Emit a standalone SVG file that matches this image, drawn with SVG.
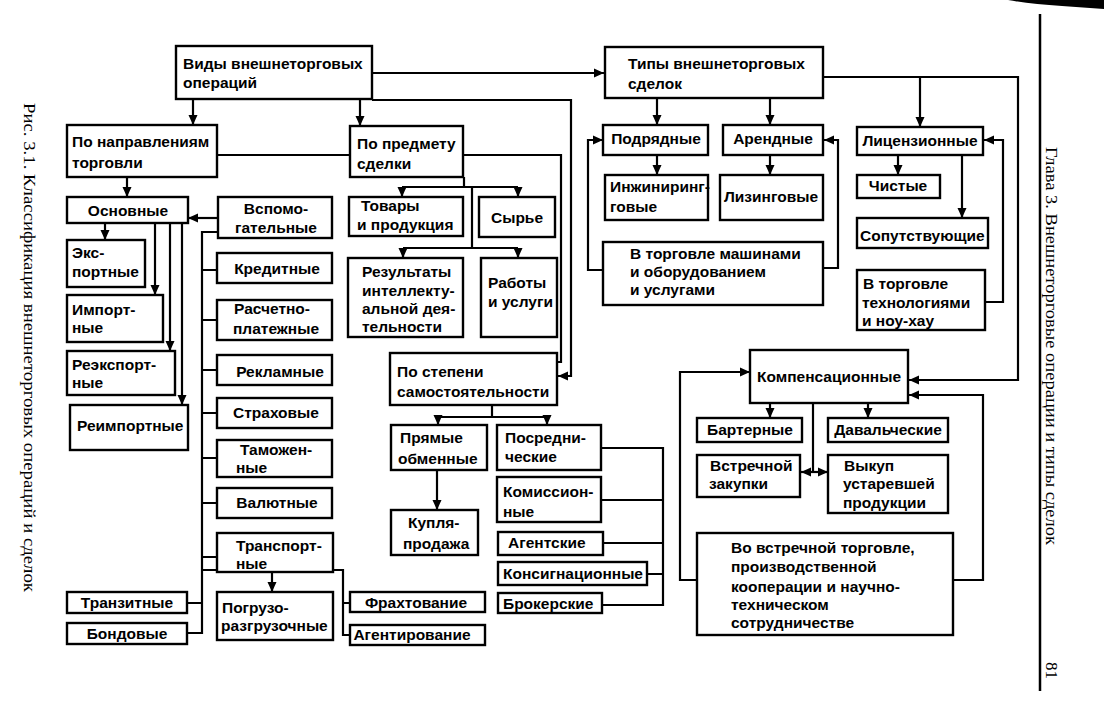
<svg xmlns="http://www.w3.org/2000/svg" width="1104" height="721" viewBox="0 0 1104 721">
<style>
.box{fill:#fff;stroke:#000;stroke-width:2.4}
.t{font-family:"Liberation Sans",Arial,sans-serif;font-size:15.5px;font-weight:bold;fill:#000}
.c{text-anchor:middle}
.ln{fill:none;stroke:#000;stroke-width:2.2}
.ar{marker-end:url(#ah)}
.cap{font-family:"Liberation Serif","Times New Roman",serif;font-size:17px;fill:#000}
</style>
<defs>
<marker id="ah" viewBox="0 0 10 10" refX="10" refY="5" markerWidth="10" markerHeight="10" markerUnits="userSpaceOnUse" orient="auto"><path d="M0,0.5 L10,5 L0,9.5 z" fill="#000"/></marker>
</defs>
<rect width="1104" height="721" fill="#fff"/>
<g id="scan-edge"><path d="M1008,0 L1104,0 L1104,9 L1062,6 Q1030,4 1008,0 Z" fill="#000"/></g>
<g id="page-rule"><line x1="1040" y1="14" x2="1040" y2="691" stroke="#000" stroke-width="2.5"/></g>
<g id="captions">
<text class="cap" transform="translate(24,103) rotate(90)" textLength="489" lengthAdjust="spacingAndGlyphs">Рис. 3.1. Классификация внешнеторговых операций и сделок</text>
<text class="cap" transform="translate(1046,147) rotate(90)" textLength="398" lengthAdjust="spacingAndGlyphs">Глава 3. Внешнеторговые операции и типы сделок</text>
<text class="cap" transform="translate(1046,662) rotate(90)">81</text>
</g>
<g id="connectors">
<path class="ln ar" d="M193,99 V125"/>
<path class="ln ar" d="M360,99 V126"/>
<path class="ln ar" d="M372,73 H604"/>
<path class="ln ar" d="M372,100 H571 V376 H558"/>
<path class="ln" d="M217,155 H350"/>
<path class="ln" d="M463,155 H561 V362 H557"/>
<path class="ln" d="M464,177 V187 M402,187 H518 M472,187 V248 M403,248 H518"/>
<path class="ln ar" d="M402,187 V197"/>
<path class="ln ar" d="M518,187 V197"/>
<path class="ln ar" d="M403,248 V258"/>
<path class="ln ar" d="M518,248 V258"/>
<path class="ln" d="M492,405 V417 M438,417 H547"/>
<path class="ln ar" d="M438,417 V425"/>
<path class="ln ar" d="M547,417 V425"/>
<path class="ln ar" d="M437,470 V510"/>
<path class="ln" d="M601,448 H663 V605 H602 M601,500 H663 M603,543 H663 M647,574 H663"/>
<path class="ln ar" d="M127,177 V197"/>
<path class="ln ar" d="M218,218 H188"/>
<path class="ln ar" d="M105,223 V240"/>
<path class="ln ar" d="M155,223 V295"/>
<path class="ln ar" d="M170,223 V351"/>
<path class="ln ar" d="M182,223 V405"/>
<path class="ln" d="M218,232 H202 V634 M202,557 H217 M202,270 H217 M202,320 H217 M202,370 H217 M202,413 H217 M202,458 H217 M202,503 H217 M217,570 H202 M187,603 H202 M187,633 H202"/>
<path class="ln ar" d="M272,572 V592"/>
<path class="ln" d="M333,570 H343 V635 H350 M343,603 H350"/>
<path class="ln ar" d="M657,98 V125"/>
<path class="ln ar" d="M770,98 V125"/>
<path class="ln ar" d="M823,77 H1018 V380 H909"/>
<path class="ln ar" d="M920,77 V127"/>
<path class="ln ar" d="M657,155 V175"/>
<path class="ln ar" d="M770,155 V175"/>
<path class="ln ar" d="M898,155 V175"/>
<path class="ln ar" d="M962,155 V218"/>
<path class="ln ar" d="M603,270 H588 V140 H603"/>
<path class="ln ar" d="M823,268 H838 V140 H824"/>
<path class="ln ar" d="M985,302 H1003 V140 H984"/>
<path class="ln ar" d="M770,403 V418"/>
<path class="ln ar" d="M868,403 V418"/>
<path class="ln" d="M813,403 V472"/>
<path class="ln ar" d="M813,472 H801"/>
<path class="ln ar" d="M813,472 H828"/>
<path class="ln ar" d="M697,580 H680 V372 H750"/>
<path class="ln ar" d="M953,580 H983 V395 H909"/>
</g>
<g id="n-vidy"><rect class="box" x="176" y="46" width="196" height="53"/><text class="t" x="183" y="69">Виды внешнеторговых</text><text class="t" x="183" y="88">операций</text></g>
<g id="n-tipy"><rect class="box" x="605" y="47" width="218" height="51"/><text class="t" x="628" y="69">Типы внешнеторговых</text><text class="t" x="628" y="89">сделок</text></g>
<g id="n-napr"><rect class="box" x="67" y="125" width="150" height="52"/><text class="t" x="72" y="147">По направлениям</text><text class="t" x="72" y="168">торговли</text></g>
<g id="n-predm"><rect class="box" x="350" y="126" width="113" height="51"/><text class="t" x="357" y="149">По предмету</text><text class="t" x="357" y="169">сделки</text></g>
<g id="n-osn"><rect class="box" x="67" y="197" width="121" height="26"/><text class="t c" x="128" y="216">Основные</text></g>
<g id="n-vspom"><rect class="box" x="218" y="197" width="114" height="41"/><text class="t c" x="276" y="214">Вспомо-</text><text class="t c" x="276" y="233">гательные</text></g>
<g id="n-tovary"><rect class="box" x="349" y="197" width="114" height="39"/><text class="t" x="361" y="211">Товары</text><text class="t" x="357" y="230">и продукция</text></g>
<g id="n-syrie"><rect class="box" x="479" y="197" width="76" height="40"/><text class="t c" x="517" y="223">Сырье</text></g>
<g id="n-export"><rect class="box" x="67" y="240" width="78" height="47"/><text class="t" x="72" y="258">Экс-</text><text class="t" x="72" y="277">портные</text></g>
<g id="n-import"><rect class="box" x="67" y="295" width="96" height="47"/><text class="t" x="72" y="315">Импорт-</text><text class="t" x="72" y="333">ные</text></g>
<g id="n-reexport"><rect class="box" x="67" y="351" width="108" height="44"/><text class="t" x="72" y="370">Реэкспорт-</text><text class="t" x="72" y="388">ные</text></g>
<g id="n-reimport"><rect class="box" x="70" y="405" width="118" height="45"/><text class="t" x="77" y="431">Реимпортные</text></g>
<g id="n-kredit"><rect class="box" x="217" y="253" width="115" height="30"/><text class="t c" x="277" y="274">Кредитные</text></g>
<g id="n-raschet"><rect class="box" x="217" y="300" width="115" height="40"/><text class="t" x="234" y="314">Расчетно-</text><text class="t" x="233" y="334">платежные</text></g>
<g id="n-reklam"><rect class="box" x="217" y="355" width="115" height="30"/><text class="t c" x="280" y="377">Рекламные</text></g>
<g id="n-strakh"><rect class="box" x="217" y="398" width="115" height="30"/><text class="t c" x="276" y="418">Страховые</text></g>
<g id="n-tamozh"><rect class="box" x="217" y="440" width="115" height="37"/><text class="t" x="240" y="455">Таможен-</text><text class="t" x="236" y="473">ные</text></g>
<g id="n-valyut"><rect class="box" x="217" y="488" width="115" height="30"/><text class="t c" x="277" y="508">Валютные</text></g>
<g id="n-transp"><rect class="box" x="217" y="533" width="116" height="39"/><text class="t" x="236" y="551">Транспорт-</text><text class="t" x="236" y="569">ные</text></g>
<g id="n-tranzit"><rect class="box" x="67" y="592" width="120" height="21"/><text class="t c" x="127" y="608">Транзитные</text></g>
<g id="n-bond"><rect class="box" x="67" y="623" width="120" height="21"/><text class="t c" x="127" y="639">Бондовые</text></g>
<g id="n-pogruz"><rect class="box" x="217" y="592" width="116" height="48"/><text class="t" x="222" y="613">Погрузо-</text><text class="t" x="221" y="631">разгрузочные</text></g>
<g id="n-frakht"><rect class="box" x="350" y="592" width="135" height="20"/><text class="t c" x="416" y="608">Фрахтование</text></g>
<g id="n-agentir"><rect class="box" x="350" y="625" width="135" height="20"/><text class="t c" x="412" y="640">Агентирование</text></g>
<g id="n-rezult"><rect class="box" x="348" y="258" width="115" height="79"/><text class="t" x="362" y="277">Результаты</text><text class="t" x="362" y="296">интеллекту-</text><text class="t" x="362" y="314">альной дея-</text><text class="t" x="362" y="332">тельности</text></g>
<g id="n-raboty"><rect class="box" x="481" y="258" width="76" height="79"/><text class="t" x="488" y="288">Работы</text><text class="t" x="488" y="307">и услуги</text></g>
<g id="n-stepen"><rect class="box" x="390" y="353" width="167" height="52"/><text class="t" x="397" y="377">По степени</text><text class="t" x="397" y="397">самостоятельности</text></g>
<g id="n-pryamye"><rect class="box" x="391" y="425" width="96" height="45"/><text class="t" x="400" y="443">Прямые</text><text class="t" x="398" y="464">обменные</text></g>
<g id="n-kuplya"><rect class="box" x="391" y="510" width="87" height="45"/><text class="t" x="408" y="528">Купля-</text><text class="t" x="403" y="549">продажа</text></g>
<g id="n-posred"><rect class="box" x="497" y="425" width="104" height="45"/><text class="t" x="505" y="443">Посредни-</text><text class="t" x="505" y="462">ческие</text></g>
<g id="n-komis"><rect class="box" x="497" y="477" width="104" height="45"/><text class="t" x="503" y="497">Комиссион-</text><text class="t" x="503" y="517">ные</text></g>
<g id="n-agent"><rect class="box" x="498" y="532" width="105" height="23"/><text class="t" x="508" y="548">Агентские</text></g>
<g id="n-konsig"><rect class="box" x="498" y="562" width="149" height="23"/><text class="t" x="503" y="579">Консигнационные</text></g>
<g id="n-broker"><rect class="box" x="498" y="593" width="104" height="20"/><text class="t" x="503" y="609">Брокерские</text></g>
<g id="n-podr"><rect class="box" x="603" y="125" width="105" height="30"/><text class="t c" x="656" y="144">Подрядные</text></g>
<g id="n-arend"><rect class="box" x="723" y="125" width="100" height="30"/><text class="t c" x="773" y="144">Арендные</text></g>
<g id="n-licen"><rect class="box" x="857" y="127" width="126" height="28"/><text class="t c" x="920" y="146">Лицензионные</text></g>
<g id="n-inzh"><rect class="box" x="605" y="175" width="103" height="45"/><text class="t" x="610" y="192">Инжиниринг-</text><text class="t" x="610" y="212">говые</text></g>
<g id="n-liz"><rect class="box" x="720" y="175" width="103" height="45"/><text class="t c" x="771" y="202">Лизинговые</text></g>
<g id="n-chist"><rect class="box" x="857" y="175" width="83" height="23"/><text class="t c" x="898" y="191">Чистые</text></g>
<g id="n-soput"><rect class="box" x="857" y="218" width="131" height="30"/><text class="t" x="860" y="241">Сопутствующие</text></g>
<g id="n-mash"><rect class="box" x="603" y="242" width="220" height="63"/><text class="t" x="630" y="259">В торговле машинами</text><text class="t" x="630" y="277">и оборудованием</text><text class="t" x="630" y="295">и услугами</text></g>
<g id="n-tekh"><rect class="box" x="857" y="270" width="128" height="60"/><text class="t" x="863" y="289">В торговле</text><text class="t" x="862" y="308">технологиями</text><text class="t" x="862" y="326">и ноу-хау</text></g>
<g id="n-komp"><rect class="box" x="750" y="350" width="158" height="53"/><text class="t c" x="829" y="382">Компенсационные</text></g>
<g id="n-barter"><rect class="box" x="697" y="418" width="105" height="24"/><text class="t c" x="750" y="435">Бартерные</text></g>
<g id="n-daval"><rect class="box" x="828" y="418" width="120" height="24"/><text class="t c" x="888" y="435">Давальческие</text></g>
<g id="n-vstrech"><rect class="box" x="697" y="455" width="103" height="42"/><text class="t" x="710" y="471">Встречной</text><text class="t" x="709" y="489">закупки</text></g>
<g id="n-vykup"><rect class="box" x="828" y="455" width="120" height="58"/><text class="t" x="844" y="471">Выкуп</text><text class="t" x="843" y="489">устаревшей</text><text class="t" x="843" y="508">продукции</text></g>
<g id="n-vo"><rect class="box" x="697" y="533" width="256" height="102"/><text class="t" x="731" y="553">Во встречной торговле,</text><text class="t" x="731" y="572">производственной</text><text class="t" x="731" y="592">кооперации и научно-</text><text class="t" x="731" y="610">техническом</text><text class="t" x="731" y="628">сотрудничестве</text></g>
</svg>
